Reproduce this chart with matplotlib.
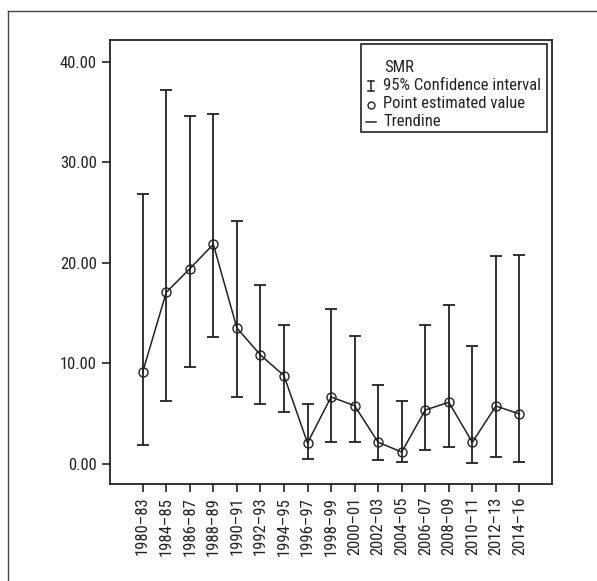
import matplotlib
matplotlib.use("Agg")
import matplotlib.pyplot as plt
from matplotlib.lines import Line2D
from matplotlib.patches import Rectangle
from matplotlib import font_manager

periods = ["1980–83", "1984–85", "1986–87", "1988–89", "1990–91", "1992–93",
           "1994–95", "1996–97", "1998–99", "2000–01", "2002–03", "2004–05",
           "2006–07", "2008–09", "2010–11", "2012–13", "2014–16"]
smr = [9.12, 17.05, 19.4, 21.83, 13.5, 10.82, 8.76, 2.06, 6.64, 5.77, 2.13,
       1.16, 5.34, 6.11, 2.13, 5.74, 4.95]
ci_upper = [26.87, 37.18, 34.57, 34.83, 24.12, 17.78, 13.83, 5.97, 15.39,
            12.74, 7.83, 6.27, 13.83, 15.76, 11.68, 20.64, 20.8]
ci_lower = [1.86, 6.24, 9.62, 12.6, 6.64, 5.97, 5.17, 0.47, 2.16, 2.16, 0.4,
            0.14, 1.39, 1.66, 0.1, 0.64, 0.2]
yticks = [0, 10, 20, 30, 40]

names = {f.name for f in font_manager.fontManager.ttflist}
cands = ['Roboto Condensed', 'Liberation Sans Narrow', 'Open Sans Condensed',
         'DejaVu Sans Condensed', 'Roboto']
fam = next((c for c in cands if c in names), 'DejaVu Sans')
plt.rcParams['font.family'] = [fam, 'DejaVu Sans']
FS = 12 if 'Condensed' in fam or 'Narrow' in fam else 10.5

W, H = 597, 581
fig = plt.figure(figsize=(W / 100, H / 100), dpi=100)
ax = fig.add_axes([109.5 / W, 1 - 484.3 / H, (551.7 - 109.5) / W, (484.3 - 40) / H])

x = list(range(len(periods)))
lerr = [s - l for s, l in zip(smr, ci_lower)]
uerr = [u - s for s, u in zip(smr, ci_upper)]
ax.errorbar(x, smr, yerr=[lerr, uerr], fmt='none', ecolor='#222222',
            elinewidth=1.3, capsize=4, capthick=1.3)
ax.plot(x, smr, color='#222222', lw=1.1, marker='o', markersize=6.5,
        markerfacecolor='none', markeredgecolor='#222222', markeredgewidth=1.0)

ax.set_xlim(-1.41, 17.37)
ax.set_ylim(-2.05, 42.16)
ax.set_xticks(x)
ax.set_xticklabels(periods, rotation=90, fontsize=FS, color='#222222')
ax.set_yticks(yticks)
ax.set_yticklabels([f"{v:.2f}" for v in yticks], fontsize=FS, color='#222222')
ax.tick_params(axis='both', length=6, width=1.2, color='#222222', pad=3)
for sp in ax.spines.values():
    sp.set_linewidth(1.3)
    sp.set_color('#222222')

def fx(px):
    return px / W
def fy(py):
    return 1 - py / H

fig.patches.append(Rectangle((fx(361), fy(132)), fx(547) - fx(361), fy(44) - fy(132),
                             transform=fig.transFigure, fill=False,
                             edgecolor='#222222', lw=1.2))
fig.text(fx(384), fy(67), "SMR", fontsize=FS, va='center', ha='left', color='#222222')
fig.text(fx(383), fy(86), "95% Confidence interval", fontsize=FS, va='center', ha='left', color='#222222')
fig.text(fx(383), fy(104), "Point estimated value", fontsize=FS, va='center', ha='left', color='#222222')
fig.text(fx(383), fy(122), "Trendine", fontsize=FS, va='center', ha='left', color='#222222')
fig.lines.append(Line2D([fx(371), fx(371)], [fy(81), fy(91)], transform=fig.transFigure, color='#222222', lw=1.1))
fig.lines.append(Line2D([fx(368), fx(374)], [fy(81), fy(81)], transform=fig.transFigure, color='#222222', lw=1.1))
fig.lines.append(Line2D([fx(368), fx(374)], [fy(91), fy(91)], transform=fig.transFigure, color='#222222', lw=1.1))
fig.lines.append(Line2D([fx(371)], [fy(105)], transform=fig.transFigure, marker='o', markersize=5,
                        markerfacecolor='none', markeredgecolor='#222222', markeredgewidth=1.0))
fig.lines.append(Line2D([fx(366), fx(376)], [fy(122), fy(122)], transform=fig.transFigure, color='#222222', lw=1.1))

fig.lines.append(Line2D([fx(8), fx(597)], [fy(11), fy(11)], transform=fig.transFigure, color='#444444', lw=1.0))
fig.lines.append(Line2D([fx(8), fx(8)], [fy(11), fy(581)], transform=fig.transFigure, color='#444444', lw=1.0))

fig.savefig("out.png", dpi=100)
